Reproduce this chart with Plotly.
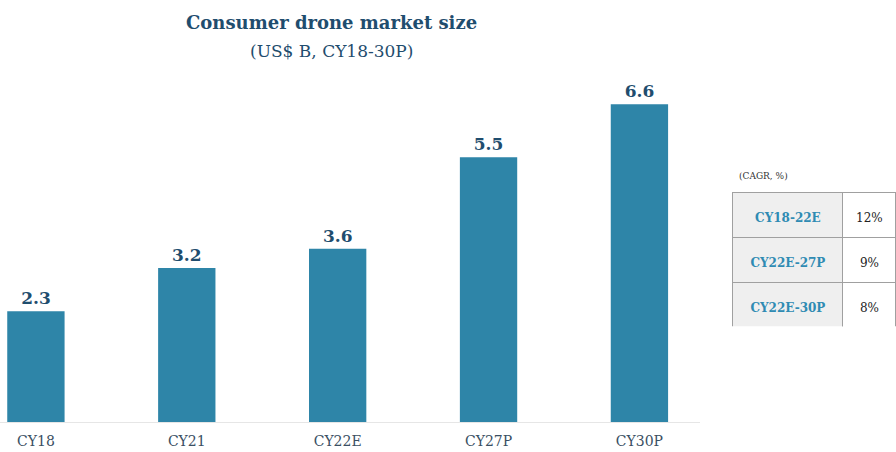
import plotly.graph_objects as go

years = ["CY18", "CY21", "CY22E", "CY27P", "CY30P"]
market_size = [2.3, 3.2, 3.6, 5.5, 6.6]

cagr_periods = ["CY18-22E", "CY22E-27P", "CY22E-30P"]
cagr_values = ["12%", "9%", "8%"]

serif = "DejaVu Serif, serif"
bar_blue = "#2e85a8"
navy = "#1f4d6e"


def cell(txt, bold=False):
    # blank first line nudges the text down to mid-row
    if bold:
        txt = f"<b>{txt}</b>"
    return f'&nbsp;<br><span style="font-size:12px">{txt}</span>'


fig = go.Figure()

fig.add_trace(go.Bar(
    x=years,
    y=market_size,
    marker=dict(color=bar_blue, line=dict(width=0)),
    text=[f"{v:.1f}" for v in market_size],
    texttemplate="<b>%{text}</b>",
    textposition="outside",
    textfont=dict(family=serif, size=17, color=navy),
    cliponaxis=False,
    width=0.38,
))

# CAGR table, first row goes in the header so it looks like the rest
fig.add_trace(go.Table(
    domain=dict(x=[0.818, 1.0], y=[0.282, 0.682]),
    columnwidth=[110, 53],
    header=dict(
        values=[cell(cagr_periods[0], True), cell(cagr_values[0])],
        fill_color=["#efefef", "white"],
        line_color="#a0a0a0",
        font=dict(family=serif, size=10, color=["#2f8bb3", "#222222"]),
        align="center",
        height=45,
    ),
    cells=dict(
        values=[[cell(p, True) for p in cagr_periods[1:]], [cell(v) for v in cagr_values[1:]]],
        fill_color=["#efefef", "white"],
        line_color="#a0a0a0",
        font=dict(family=serif, size=10, color=["#2f8bb3", "#222222"]),
        align="center",
        height=45,
    ),
))

fig.add_annotation(text="<b>Consumer drone market size</b>", xref="paper", yref="paper",
                   x=331 / 896, y=1.223, showarrow=False,
                   font=dict(family=serif, size=18, color=navy))
fig.add_annotation(text="(US$ B, CY18-30P)", xref="paper", yref="paper",
                   x=331 / 896, y=1.137, showarrow=False,
                   font=dict(family=serif, size=17, color=navy))
fig.add_annotation(text="(CAGR, %)", xref="paper", yref="paper",
                   x=0.822, y=0.75, xanchor="left", showarrow=False,
                   font=dict(family=serif, size=9, color="#333333"))

fig.update_layout(
    width=896,
    height=452,
    margin=dict(l=0, r=0, t=85, b=30),
    plot_bgcolor="white",
    paper_bgcolor="white",
    showlegend=False,
    xaxis=dict(
        domain=[0, 0.781],
        range=[-0.238, 4.4],
        showgrid=False,
        showline=True,
        linecolor="#e6e6e6",
        linewidth=1,
        ticks="",
        ticklabelstandoff=6,
        tickfont=dict(family=serif, size=14, color="#3a4f63"),
    ),
    yaxis=dict(
        range=[0, 7],
        visible=False,
        showgrid=False,
    ),
)

fig.write_html("out.html", config={"displayModeBar": False},
               post_script="document.body.style.margin='0';")
